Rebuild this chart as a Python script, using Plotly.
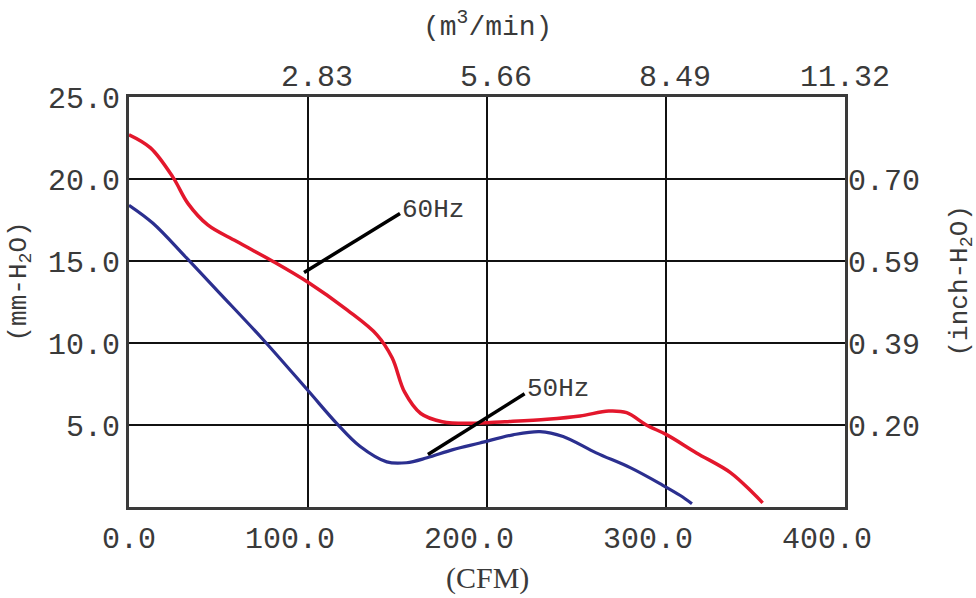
import plotly.graph_objects as go

# ---- data ----
cfm_60 = [0, 12, 24.6, 33, 44, 60, 80, 100, 122, 138.5, 147, 154, 163, 175, 190.5,
          210, 233.5, 252, 268, 278, 289, 300.5, 317, 336, 348.6, 354]
pa_60 = [22.7, 21.9, 20.1, 18.5, 17.2, 16.2, 15.0, 13.7, 12.0, 10.5, 9.1, 7.0, 5.7, 5.2, 5.1,
         5.2, 5.35, 5.55, 5.85, 5.75, 5.0, 4.4, 3.3, 2.1, 0.85, 0.25]

cfm_50 = [0, 13.4, 32, 51, 75, 100, 116, 129, 144, 155, 166.5, 181, 196, 214.5, 229.6,
          242.5, 261, 280, 298, 308, 314.5]
pa_50 = [18.4, 17.3, 15.2, 13.0, 10.2, 7.1, 5.1, 3.7, 2.75, 2.7, 3.0, 3.5, 3.9, 4.4, 4.6,
         4.3, 3.3, 2.4, 1.34, 0.7, 0.2]

x_ticks = [0, 100, 200, 300, 400]
x_labels = ["0.0", "100.0", "200.0", "300.0", "400.0"]
x2_ticks = [100, 200, 300, 400]
x2_labels = ["2.83", "5.66", "8.49", "11.32"]
y_ticks = [5, 10, 15, 20, 25]
y_labels = ["5.0", "10.0", "15.0", "20.0", "25.0"]
y2_ticks = [5, 10, 15, 20]
y2_labels = ["0.20", "0.39", "0.59", "0.70"]

label_60 = "60Hz"
label_50 = "50Hz"
lead_60 = ([97.8, 151.4], [14.3, 17.9])
lead_50 = ([167, 221], [3.2, 6.9])

NB = "\u00a0"


def pad(lbl):
    # put the decimal point on the tick (monospace font)
    i = lbl.index(".")
    left, right = i, len(lbl) - i - 1
    if left > right:
        return lbl + NB * (left - right)
    return NB * (right - left) + lbl


MONO = "Liberation Mono"
FS = 30
TXT = "#3a3a3a"

fig = go.Figure()
fig.add_trace(go.Scatter(x=cfm_60, y=pa_60, mode="lines", line=dict(color="#e3172c", width=3.5, shape="spline", smoothing=1.0),
                         showlegend=False, hoverinfo="skip"))
fig.add_trace(go.Scatter(x=cfm_50, y=pa_50, mode="lines", line=dict(color="#2b2f8f", width=3.2, shape="spline", smoothing=1.0),
                         showlegend=False, hoverinfo="skip"))
# leader lines
fig.add_trace(go.Scatter(x=lead_60[0], y=lead_60[1], mode="lines", line=dict(color="black", width=3.5),
                         showlegend=False, hoverinfo="skip"))
fig.add_trace(go.Scatter(x=lead_50[0], y=lead_50[1], mode="lines", line=dict(color="black", width=3.5),
                         showlegend=False, hoverinfo="skip"))
# invisible trace to carry secondary axes
fig.add_trace(go.Scatter(x=[0, 400], y=[0, 25], xaxis="x2", yaxis="y2", mode="markers",
                         marker=dict(opacity=0), showlegend=False, hoverinfo="skip"))

fig.add_annotation(x=lead_60[0][1], y=lead_60[1][1] + 0.2, text=label_60, showarrow=False,
                   xanchor="left", yanchor="middle", font=dict(family=MONO, size=26, color=TXT))
fig.add_annotation(x=lead_50[0][1], y=lead_50[1][1] + 0.3, text=label_50, showarrow=False,
                   xanchor="left", yanchor="middle", font=dict(family=MONO, size=26, color=TXT))

# axis titles
fig.add_annotation(xref="paper", yref="paper", x=0.5, y=1, yshift=72, text="(m<sup>3</sup>/min)", showarrow=False,
                   xanchor="center", yanchor="middle", font=dict(family=MONO, size=28, color=TXT))
fig.add_annotation(xref="paper", yref="paper", x=0.5, y=0, yshift=-71, text="(CFM)", showarrow=False,
                   xanchor="center", yanchor="middle", font=dict(family="Liberation Serif", size=30, color=TXT))
fig.add_annotation(xref="paper", yref="paper", x=0, xshift=-110, y=0.55, text="(mm-H<sub>2</sub>O)", showarrow=False,
                   textangle=-90, xanchor="center", yanchor="middle", font=dict(family=MONO, size=26, color=TXT))
fig.add_annotation(xref="paper", yref="paper", x=1, xshift=115, y=0.55, text="(inch-H<sub>2</sub>O)", showarrow=False,
                   textangle=-90, xanchor="center", yanchor="middle", font=dict(family=MONO, size=26, color=TXT))

axis_common = dict(ticks="", zeroline=False)
fig.update_layout(
    width=976, height=598,
    margin=dict(l=129, r=131, t=97, b=91),
    paper_bgcolor="white", plot_bgcolor="white",
    xaxis=dict(range=[0, 400], tickvals=x_ticks, ticktext=[pad(s) for s in x_labels],
               showgrid=True, gridcolor="#111111", gridwidth=2,
               showline=True, mirror=True, linecolor="#3a3a3a", linewidth=3,
               tickfont=dict(family=MONO, size=FS, color=TXT), ticklabelstandoff=2, **axis_common),
    yaxis=dict(range=[0, 25], tickvals=y_ticks, ticktext=y_labels,
               showgrid=True, gridcolor="#111111", gridwidth=2,
               showline=True, mirror=True, linecolor="#3a3a3a", linewidth=3,
               tickfont=dict(family=MONO, size=FS, color=TXT), ticklabelstandoff=0, **axis_common),
    xaxis2=dict(range=[0, 400], overlaying="x", side="top", tickvals=x2_ticks,
                ticktext=[pad(s) for s in x2_labels], showgrid=False, showline=False,
                tickfont=dict(family=MONO, size=FS, color=TXT), ticklabelstandoff=4, **axis_common),
    yaxis2=dict(range=[0, 25], overlaying="y", side="right", tickvals=y2_ticks, ticktext=y2_labels,
                showgrid=False, showline=False,
                tickfont=dict(family=MONO, size=FS, color=TXT), ticklabelstandoff=2, **axis_common),
)

fig.write_html("out.html", config={"displayModeBar": False}, post_script="document.body.style.margin='0';")
